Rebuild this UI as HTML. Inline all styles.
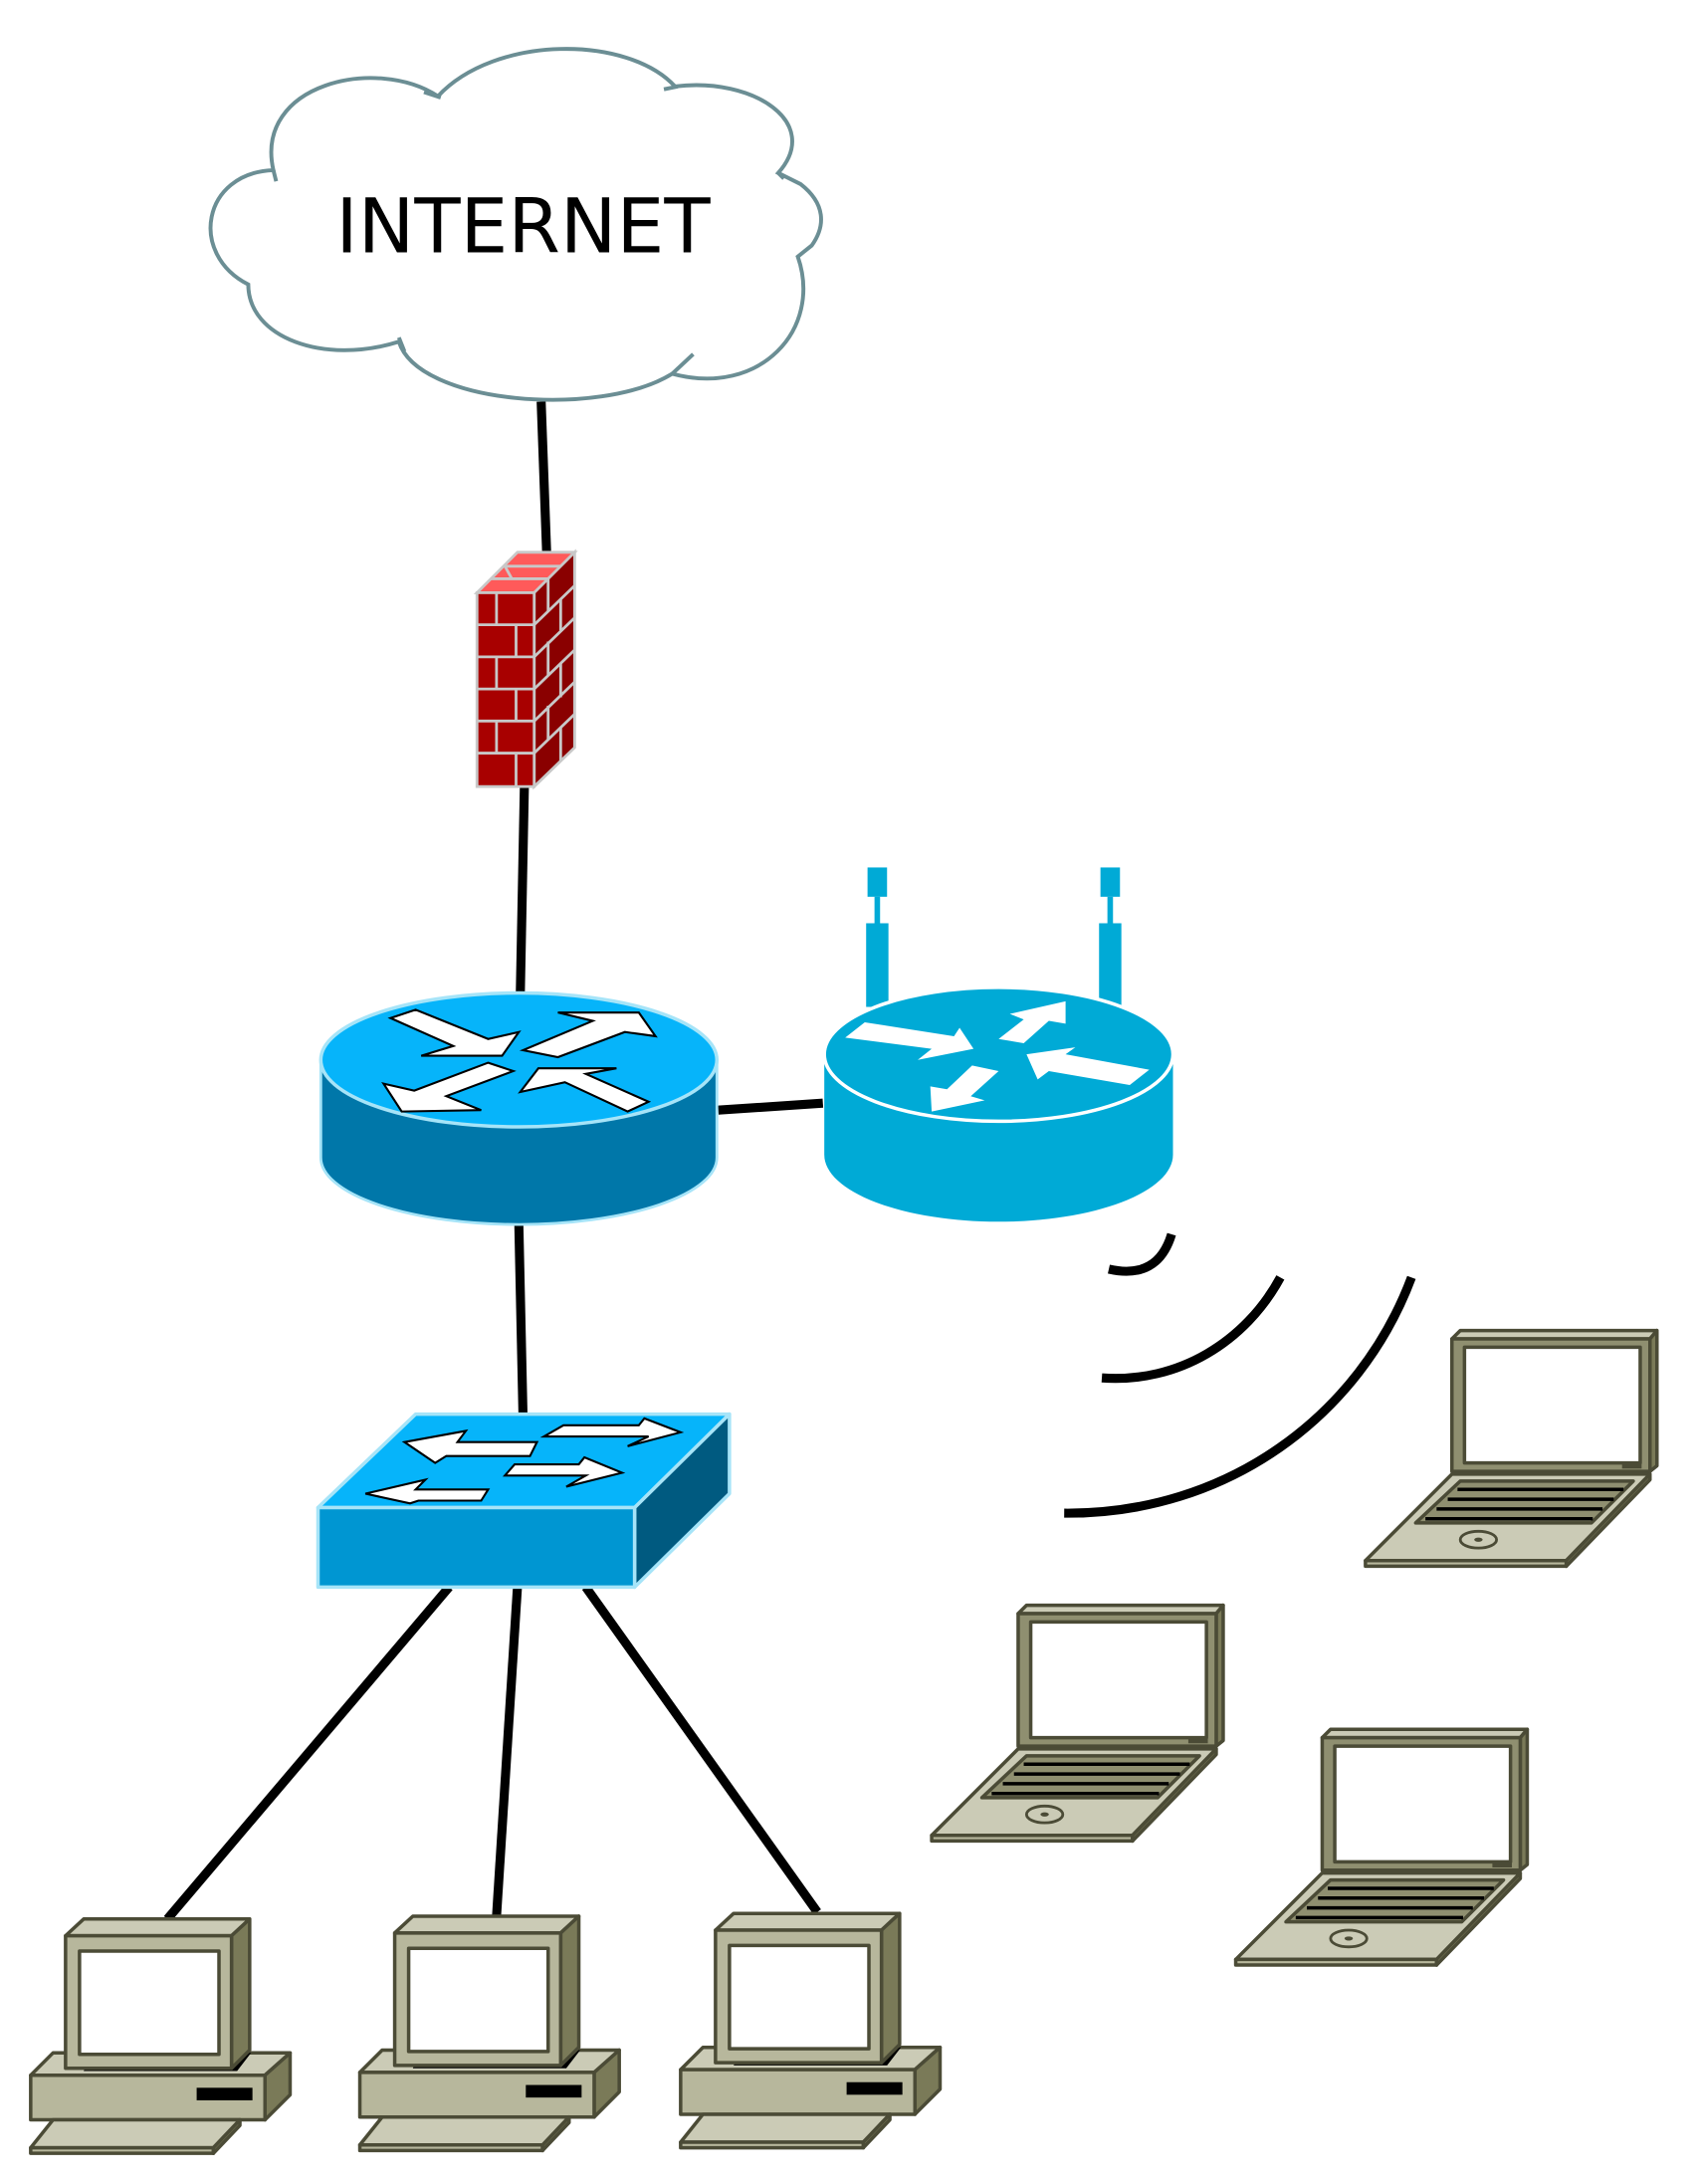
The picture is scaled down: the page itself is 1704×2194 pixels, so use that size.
<!DOCTYPE html>
<html><head><meta charset="utf-8"><style>html,body{margin:0;padding:0;background:#fff}svg{display:block}</style></head><body>
<svg width="1704" height="2194" viewBox="0 0 1216 1566" preserveAspectRatio="none" xmlns="http://www.w3.org/2000/svg">
<defs>
<g id="pc" stroke="#4b4b36" stroke-width="2.5" stroke-linejoin="round">
  <polygon points="22,1488 38,1472 208,1472 190,1488" fill="#cbcbb6"/>
  <polygon points="190,1488 208,1472 208,1502 190,1520" fill="#7a7a58"/>
  <rect x="22" y="1488" width="168" height="32" fill="#b7b79c"/>
  <rect x="141" y="1497" width="40" height="9" fill="#000" stroke="none"/>
  <polygon points="60,1485 170,1485 180,1472 66,1472" fill="#000" stroke="none"/>
  <polygon points="47,1388 60,1376 179,1376 166,1388" fill="#cbcbb6"/>
  <polygon points="166,1388 179,1376 179,1470 166,1483" fill="#7a7a58"/>
  <rect x="47" y="1388" width="119" height="95" fill="#b7b79c"/>
  <rect x="57" y="1399" width="100" height="74" fill="#fff"/>
  <polygon points="22,1540 38,1520 172,1520 153,1540" fill="#cbcbb6"/>
  <polygon points="22,1540 153,1540 153,1544 22,1544" fill="#b7b79c"/>
  <polygon points="153,1540 172,1520 172,1524 153,1544" fill="#7a7a58"/>
</g>
<g id="lt" stroke="#4b4b36" stroke-width="2.5" stroke-linejoin="round">
  <polygon points="730,1157 736,1151 877,1151 872,1157" fill="#cbcbb6"/>
  <polygon points="872,1157 877,1151 877,1248 872,1252" fill="#7a7a58"/>
  <rect x="730" y="1157" width="142" height="95" fill="#8f8f70"/>
  <rect x="739" y="1163" width="126" height="83" fill="#fff"/>
  <rect x="852" y="1246" width="14" height="4" fill="#4b4b36" stroke="none"/>
  <polygon points="668,1316 730,1254 872,1254 812,1316" fill="#cbcbb6"/>
  <polygon points="668,1316 812,1316 812,1320 668,1320" fill="#b7b79c"/>
  <polygon points="812,1316 872,1254 872,1258 812,1320" fill="#7a7a58"/>
  <polygon points="704,1289 736,1259 860,1259 830,1289" fill="#8f8f70"/>
  <g stroke="#000" stroke-width="2.5"><line x1="734" y1="1265" x2="853" y2="1265"/><line x1="727" y1="1272" x2="846" y2="1272"/><line x1="719" y1="1279" x2="838" y2="1279"/><line x1="711" y1="1286" x2="831" y2="1286"/></g>
  <ellipse cx="749" cy="1301" rx="13" ry="6" fill="none" stroke-width="2"/>
  <ellipse cx="749" cy="1301" rx="3" ry="1.5" fill="#4b4b36" stroke="none"/>
</g>
</defs>

<g stroke="#000" stroke-width="6.5" fill="none">
  <line x1="388" y1="288" x2="392" y2="398"/>
  <line x1="376" y1="562" x2="373" y2="715"/>
  <line x1="515" y1="796" x2="590" y2="791"/>
  <line x1="372" y1="878" x2="375" y2="1016"/>
  <line x1="322" y1="1138" x2="120" y2="1376"/>
  <line x1="371" y1="1138" x2="356" y2="1374"/>
  <line x1="420" y1="1138" x2="586" y2="1371"/>
  <path d="M795,910 Q830,918 840,885"/>
  <path d="M790,988 C845,992 893,962 918,916"/>
  <path d="M763,1085 C880,1086 975,1015 1012,916"/>
</g>

<path d="M314,69 C355,25 450,25 484,62 C540,55 590,88 558,124 L574,132 C592,146 592,162 582,176 L572,184 C590,236 545,285 482,268 C430,300 300,290 286,245 C232,262 178,242 178,204 C135,182 145,124 196,122 C182,60 270,40 314,69 Z" fill="#fff" stroke="#6b8e94" stroke-width="2.8"/>
<g fill="none" stroke="#6b8e94" stroke-width="2.8">
<path d="M304,66 L316,70"/><path d="M476,64 L486,62"/><path d="M558,124 L562,128"/><path d="M286,242 L290,252"/><path d="M482,268 L497,254"/><path d="M196,122 L198,130"/>
</g>
<text x="375" y="181" font-family="DejaVu Sans, Liberation Sans, sans-serif" font-size="54" text-anchor="middle" fill="#000">INTERNET</text>

<g stroke="#c8c8c8" stroke-width="2">
  <polygon points="342,425 371,396 412,396 383,425" fill="#ff5a5a"/>
  <polygon points="383,425 412,396 412,536 383,564" fill="#8a0000"/>
  <rect x="342" y="425" width="41" height="139" fill="#a80000"/>
  <g fill="none">
    <line x1="342" y1="448" x2="383" y2="448"/><line x1="342" y1="471" x2="383" y2="471"/><line x1="342" y1="494" x2="383" y2="494"/><line x1="342" y1="517" x2="383" y2="517"/><line x1="342" y1="540" x2="383" y2="540"/>
    <line x1="356" y1="425" x2="356" y2="448"/><line x1="370" y1="448" x2="370" y2="471"/><line x1="356" y1="471" x2="356" y2="494"/><line x1="370" y1="494" x2="370" y2="517"/><line x1="356" y1="517" x2="356" y2="540"/><line x1="370" y1="540" x2="370" y2="564"/>
    <line x1="383" y1="448" x2="412" y2="420"/><line x1="383" y1="471" x2="412" y2="443"/><line x1="383" y1="494" x2="412" y2="466"/><line x1="383" y1="517" x2="412" y2="489"/><line x1="383" y1="540" x2="412" y2="512"/>
    <line x1="393" y1="415" x2="393" y2="438"/><line x1="402" y1="430" x2="402" y2="452"/><line x1="393" y1="460" x2="393" y2="484"/><line x1="402" y1="476" x2="402" y2="500"/><line x1="393" y1="506" x2="393" y2="530"/><line x1="402" y1="522" x2="402" y2="546"/>
    <line x1="352" y1="415" x2="393" y2="415"/><line x1="362" y1="406" x2="402" y2="406"/><line x1="362" y1="406" x2="367" y2="415"/>
  </g>
</g>

<path d="M230,760 L230,830 A142,48 0 0 0 514,830 L514,760 Z" fill="#0077a9" stroke="#a6e4f8" stroke-width="2"/>
<ellipse cx="372" cy="760" rx="142" ry="48" fill="#06b4fa" stroke="#a6e4f8" stroke-width="2.5"/>
<g fill="#fff" stroke="#000" stroke-width="1.5">
  <polygon points="280,730 298,724 350,745 372,740 360,757 302,757 325,750"/>
  <polygon points="458,726 470,743 448,740 400,758 375,753 425,732 400,726"/>
  <polygon points="275,777 297,782 350,762 368,768 320,786 345,796 288,797"/>
  <polygon points="465,790 450,797 405,776 373,783 386,766 442,766 420,770"/>
</g>

<g fill="#00aad6">
  <rect x="622" y="622" width="14" height="21"/><rect x="627" y="643" width="4" height="20"/><rect x="621" y="662" width="16" height="60"/>
  <rect x="789" y="622" width="14" height="21"/><rect x="794" y="643" width="4" height="20"/><rect x="788" y="662" width="16" height="60"/>
</g>
<path d="M591,756 L591,828 A125,48 0 0 0 841,828 L841,756 Z" fill="#00aad6"/>
<ellipse cx="716" cy="756" rx="125" ry="48" fill="#00aad6" stroke="#fff" stroke-width="2.5"/>
<g fill="#fff">
  <polygon points="606,744 620,733 684,743 688,737 698,752 658,760 668,752"/>
  <polygon points="764,718 764,734 752,732 734,748 716,745 734,731 724,727"/>
  <polygon points="668,797 667,779 679,781 697,764 716,768 696,786 706,789"/>
  <polygon points="824,767 810,778 752,768 744,774 736,756 771,751 764,756"/>
</g>

<g stroke="#a6e4f8" stroke-width="2.5" stroke-linejoin="round">
  <polygon points="228,1081 298,1014 523,1014 455,1081" fill="#06b4fa"/>
  <polygon points="455,1081 523,1014 523,1071 455,1138" fill="#005a80"/>
  <rect x="228" y="1081" width="227" height="57" fill="#0096d2"/>
</g>
<g fill="#fff" stroke="#000" stroke-width="1.5">
  <polygon points="404,1022 458,1022 462,1017 488,1027 450,1037 465,1030 390,1030"/>
  <polygon points="290,1034 334,1026 328,1034 385,1034 380,1044 320,1044 312,1049"/>
  <polygon points="369,1050 415,1050 419,1045 446,1056 406,1066 420,1058 362,1058"/>
  <polygon points="262,1071 305,1061 298,1068 350,1068 345,1076 300,1076 294,1078"/>
</g>

<use href="#pc"/>
<use href="#pc" transform="translate(236,-2)"/>
<use href="#pc" transform="translate(466,-4)"/>

<use href="#lt"/>
<use href="#lt" transform="translate(311,-197)"/>
<use href="#lt" transform="translate(218,89)"/>
</svg>
</body></html>
